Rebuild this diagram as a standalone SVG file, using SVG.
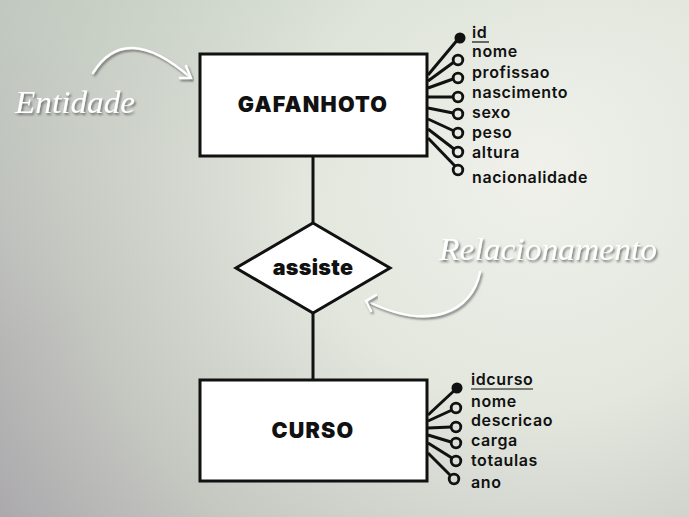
<svg xmlns="http://www.w3.org/2000/svg" width="689" height="517" viewBox="0 0 689 517">
<defs>
<radialGradient id="bg" cx="540" cy="170" r="680" gradientUnits="userSpaceOnUse">
<stop offset="0" stop-color="#eff1ea"/>
<stop offset="0.35" stop-color="#e3e7de"/>
<stop offset="0.7" stop-color="#c4c6c0"/>
<stop offset="1" stop-color="#a5a2a8"/>
</radialGradient>
<linearGradient id="tint" x1="0" y1="0" x2="0.6" y2="1">
<stop offset="0" stop-color="#c8d8c8" stop-opacity="0.55"/>
<stop offset="0.5" stop-color="#d8e0d6" stop-opacity="0"/>
</linearGradient>
<filter id="sh" x="-20%" y="-40%" width="140%" height="180%">
<feDropShadow dx="1.5" dy="2" stdDeviation="1.2" flood-color="#555" flood-opacity="0.75"/>
</filter>
</defs>
<style>
.box{fill:#fff;stroke:#111;stroke-width:3}
.ttl{font-family:Inter,Lato,"DejaVu Sans",sans-serif;font-weight:900;font-size:21.5px;letter-spacing:1.2px;fill:#111;text-anchor:middle}
.att{font-family:Inter,"Open Sans","DejaVu Sans",sans-serif;font-weight:560;font-size:16px;letter-spacing:0.6px;fill:#111}
.ln{stroke:#111;stroke-width:3;fill:none}
.oc{fill:none;stroke:#111;stroke-width:2.8}
.fc{fill:#111}
.scr{font-family:"Liberation Serif","DejaVu Serif",serif;font-style:italic;fill:#fff;filter:url(#sh)}
.wa{stroke:#fff;stroke-width:2.4;fill:none;stroke-linecap:round;filter:url(#sh)}
.ul{stroke:#111;stroke-width:1.2}
</style>
<rect width="689" height="517" fill="url(#bg)"/>
<rect width="689" height="517" fill="url(#tint)"/>

<g id="connectors">
<line class="ln" x1="313" y1="156" x2="313" y2="223"/>
<line class="ln" x1="313" y1="313" x2="313" y2="380"/>
<line class="ln" x1="428" y1="75" x2="459" y2="38"/>
<line class="ln" x1="428" y1="81" x2="454" y2="62"/>
<line class="ln" x1="428" y1="88" x2="453" y2="79"/>
<line class="ln" x1="428" y1="97" x2="453" y2="97"/>
<line class="ln" x1="428" y1="108" x2="453" y2="113"/>
<line class="ln" x1="428" y1="119" x2="454" y2="131"/>
<line class="ln" x1="428" y1="129" x2="454" y2="149"/>
<line class="ln" x1="428" y1="138" x2="455" y2="166"/>
<line class="ln" x1="428" y1="415" x2="457" y2="388"/>
<line class="ln" x1="428" y1="421" x2="452" y2="410"/>
<line class="ln" x1="428" y1="428" x2="451" y2="427"/>
<line class="ln" x1="428" y1="435" x2="451" y2="442"/>
<line class="ln" x1="428" y1="443" x2="452" y2="458"/>
<line class="ln" x1="428" y1="453" x2="451" y2="476"/>
</g>

<g id="gafanhoto">
<rect class="box" x="200" y="54" width="227" height="102"/>
<text class="ttl" x="313" y="112">GAFANHOTO</text>
</g>
<g id="gafanhoto-attrs">
<circle class="fc" cx="460" cy="38" r="5.5"/>
<circle class="oc" cx="458" cy="60" r="4.8"/>
<circle class="oc" cx="458" cy="78" r="4.8"/>
<circle class="oc" cx="458" cy="97" r="4.8"/>
<circle class="oc" cx="458" cy="114" r="4.8"/>
<circle class="oc" cx="458" cy="133" r="4.8"/>
<circle class="oc" cx="458" cy="152" r="4.8"/>
<circle class="oc" cx="458" cy="170" r="4.8"/>
<text class="att" x="472" y="38">id</text>
<line class="ul" x1="472" y1="42" x2="489" y2="42"/>
<text class="att" x="472" y="57">nome</text>
<text class="att" x="472" y="78">profissao</text>
<text class="att" x="472" y="98">nascimento</text>
<text class="att" x="472" y="118">sexo</text>
<text class="att" x="472" y="138">peso</text>
<text class="att" x="472" y="158">altura</text>
<text class="att" x="472" y="183">nacionalidade</text>
</g>

<g id="assiste">
<polygon class="box" points="313,223 390,268 313,313 236,268"/>
<text class="ttl" x="313" y="275" style="letter-spacing:0.3px">assiste</text>
</g>

<g id="curso">
<rect class="box" x="200" y="380" width="227" height="101"/>
<text class="ttl" x="313" y="438">CURSO</text>
</g>
<g id="curso-attrs">
<circle class="fc" cx="457" cy="388" r="5.5"/>
<circle class="oc" cx="456" cy="408" r="4.8"/>
<circle class="oc" cx="456" cy="427" r="4.8"/>
<circle class="oc" cx="456" cy="443" r="4.8"/>
<circle class="oc" cx="456" cy="461" r="4.8"/>
<circle class="oc" cx="454" cy="479" r="4.8"/>
<text class="att" x="471" y="385">idcurso</text>
<line class="ul" x1="471" y1="389" x2="533" y2="389"/>
<text class="att" x="471" y="407">nome</text>
<text class="att" x="471" y="426">descricao</text>
<text class="att" x="471" y="446">carga</text>
<text class="att" x="471" y="466">totaulas</text>
<text class="att" x="471" y="488">ano</text>
</g>

<g id="entidade-label">
<text class="scr" x="15" y="113" font-size="32" textLength="120" lengthAdjust="spacingAndGlyphs">Entidade</text>
<path class="wa" d="M93,73 Q125,21 190,77"/>
<path class="wa" d="M186,66 L191,78 L180,78"/>
</g>
<g id="relacionamento-label">
<text class="scr" x="439" y="260" font-size="32" textLength="218" lengthAdjust="spacingAndGlyphs">Relacionamento</text>
<path class="wa" d="M480,272 C472,312 430,332 367,301"/>
<path class="wa" d="M376,295 L366,301 L371,311"/>
</g>
</svg>
